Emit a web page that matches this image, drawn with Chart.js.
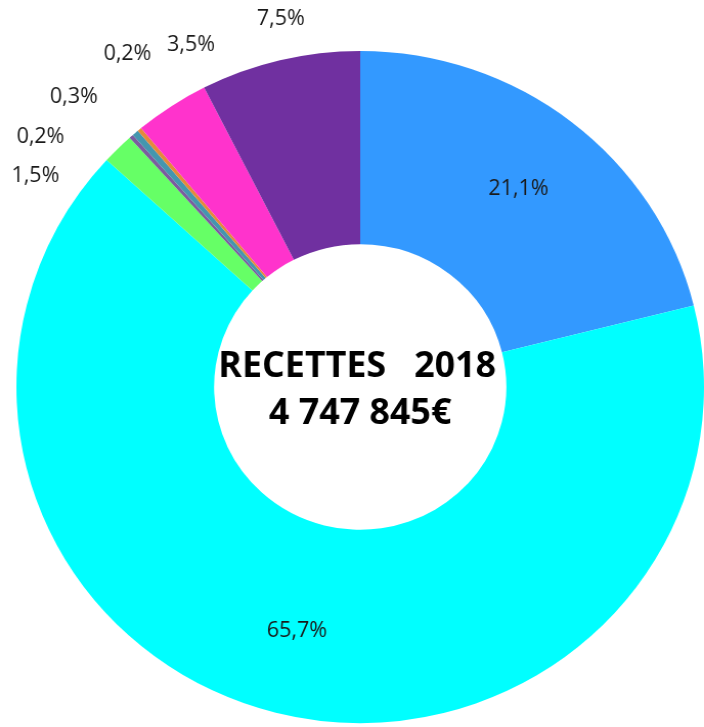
<!DOCTYPE html>
<html>
<head>
    <meta charset="UTF-8">
    <title>recettes2018</title>
    <script src="https://cdn.jsdelivr.net/npm/chart.js"></script>
    <style>
        html, body { margin: 0; padding: 0; background: #fff; overflow: hidden; }
        #wrap { width: 704px; height: 727px; }
        /* l'image d'origine est un peu etiree en largeur */
        #recettesChart { transform: scaleX(1.02326); transform-origin: 0 0; }
    </style>
</head>
<body>
    <div id="wrap">
        <canvas id="recettesChart" width="688" height="727"></canvas>
    </div>

    <script>
        // parts des recettes 2018 (%), dans le sens horaire depuis midi
        var categories = ['Poste A', 'Poste B', 'Poste C', 'Poste D', 'Poste E', 'Poste F', 'Poste G', 'Poste H'];
        var parts = [21.1, 65.7, 1.5, 0.2, 0.3, 0.2, 3.5, 7.5];
        var colors = ['#3399FF', '#00FFFF', '#66FF66', '#7B5C9E', '#4496AE', '#E5893A', '#FF33CC', '#7030A0'];
        var centerLines = ['RECETTES   2018', '4 747 845\u20AC'];

        function fmt(v) {
            return v.toFixed(1).replace('.', ',') + '%';
        }

        // etiquettes: dedans pour les grosses parts, dehors pour les petites
        var labelPlugin = {
            id: 'sliceLabels',
            afterDatasetsDraw: function (chart, args, opts) {
                var ctx = chart.ctx;
                var meta = chart.getDatasetMeta(0);
                ctx.save();
                ctx.font = '21px "Open Sans", sans-serif';
                ctx.fillStyle = '#1a1a1a';
                ctx.textAlign = 'center';
                ctx.textBaseline = 'middle';
                meta.data.forEach(function (arc, i) {
                    var p = arc.getProps(['x', 'y', 'startAngle', 'endAngle', 'innerRadius', 'outerRadius'], true);
                    var mid = (p.startAngle + p.endAngle) / 2;
                    var r, a = mid;
                    if (parts[i] >= 10) {
                        r = (p.innerRadius + p.outerRadius) / 2 + 12;
                    } else {
                        var o = opts.outside[i] || [0, 40];
                        a = mid + o[0] * Math.PI / 180;
                        r = p.outerRadius + o[1];
                    }
                    ctx.fillText(fmt(parts[i]), p.x + Math.cos(a) * r, p.y + Math.sin(a) * r);
                });
                ctx.restore();
            }
        };

        var centerPlugin = {
            id: 'centerText',
            afterDraw: function (chart) {
                var ctx = chart.ctx;
                var a = chart.chartArea;
                var cx = (a.left + a.right) / 2;
                var cy = (a.top + a.bottom) / 2;
                ctx.save();
                ctx.font = 'bold 35px "Open Sans", sans-serif';
                ctx.fillStyle = '#000';
                ctx.textAlign = 'center';
                ctx.textBaseline = 'middle';
                ctx.fillText(centerLines[0], cx - 3, cy - 20);
                ctx.fillText(centerLines[1], cx, cy + 27);
                ctx.restore();
            }
        };

        var ctx = document.getElementById('recettesChart').getContext('2d');
        var chart = new Chart(ctx, {
            type: 'doughnut',
            data: {
                labels: categories,
                datasets: [{
                    data: parts,
                    backgroundColor: colors,
                    borderWidth: 0
                }]
            },
            options: {
                responsive: false,
                animation: false,
                cutout: '42.5%',
                layout: { padding: { left: 16, right: 0, top: 51, bottom: 4 } },
                plugins: {
                    legend: { display: false },
                    tooltip: { enabled: false },
                    sliceLabels: {
                        // [decalage angulaire en degres, distance au bord]
                        outside: {
                            2: [-11.6, 45],
                            3: [-9.6, 64],
                            4: [-3.1, 67],
                            5: [5.6, 67],
                            6: [7.5, 44],
                            7: [1.6, 40]
                        }
                    }
                }
            },
            plugins: [labelPlugin, centerPlugin]
        });
    </script>
</body>
</html>
